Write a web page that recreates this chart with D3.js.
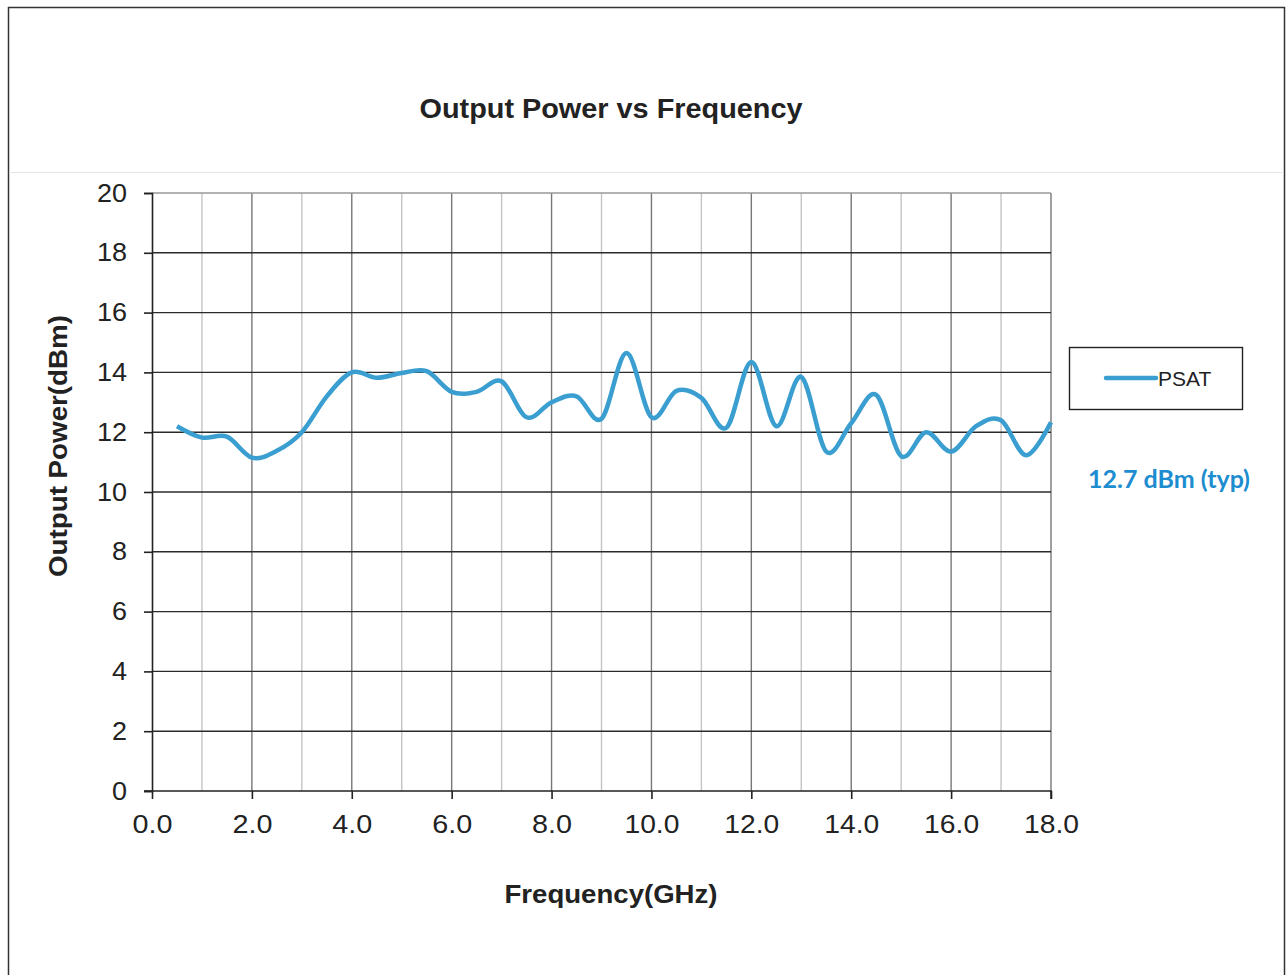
<!DOCTYPE html>
<html>
<head>
<meta charset="utf-8">
<script src="https://cdn.jsdelivr.net/npm/d3@7"></script>
<style>
  body { margin: 0; background: #fff; }
  svg { display: block; font-family: "Liberation Sans", Arial, sans-serif; }
</style>
</head>
<body>
<script>
// frequency (GHz) and PSAT (dBm)
var freq = [0.5, 1.0, 1.5, 2.0, 2.5, 3.0, 3.5, 4.0, 4.5, 5.0, 5.5, 6.0,
  6.5, 7.0, 7.5, 8.0, 8.5, 9.0, 9.5, 10.0, 10.5, 11.0, 11.5, 12.0,
  12.5, 13.0, 13.5, 14.0, 14.5, 15.0, 15.5, 16.0, 16.5, 17.0, 17.5, 18.0];
var psat = [12.2, 11.82, 11.85, 11.15, 11.38, 12.0, 13.2, 14.0, 13.82, 13.98, 14.04, 13.35,
  13.35, 13.7, 12.5, 13.0, 13.2, 12.45, 14.65, 12.5, 13.38, 13.15, 12.15, 14.35,
  12.2, 13.85, 11.35, 12.3, 13.25, 11.2, 12.0, 11.35, 12.2, 12.4, 11.23, 12.33];
var xTicks = [0, 2, 4, 6, 8, 10, 12, 14, 16, 18];
var yTicks = [0, 2, 4, 6, 8, 10, 12, 14, 16, 18, 20];
var seriesName = "PSAT";
var note = "12.7 dBm (typ)";

var W = 1288, H = 975;
var margin = { top: 193, left: 152 };
var width = 1051 - 152, height = 791 - 193;
var lineColor = "#3a9fd0";

var svg = d3.select("body").append("svg")
  .attr("width", W).attr("height", H);

// page frame
svg.append("rect").attr("x", 8.5).attr("y", 7.5).attr("width", 1276).attr("height", 980)
  .attr("fill", "none").attr("stroke", "#333").attr("stroke-width", 1.5);
svg.append("line").attr("x1", 9).attr("x2", 1284).attr("y1", 172.5).attr("y2", 172.5)
  .attr("stroke", "#e6e6e6");

var x = d3.scaleLinear().domain([0, 18]).range([0, width]);
var y = d3.scaleLinear().domain([0, 20]).range([height, 0]);

var g = svg.append("g")
  .attr("transform", "translate(" + margin.left + "," + margin.top + ")");

// vertical grid every 1 GHz
g.selectAll(".vgrid").data(d3.range(1, 19)).enter().append("line")
  .attr("x1", function (d) { return x(d); }).attr("x2", function (d) { return x(d); })
  .attr("y1", 0).attr("y2", height)
  .attr("stroke", function (d) { return d % 2 === 0 ? "#777" : "#c4c4c4"; })
  .attr("stroke-width", 1.4);

// horizontal grid
g.selectAll(".hgrid").data(yTicks.slice(1)).enter().append("line")
  .attr("x1", 0).attr("x2", width)
  .attr("y1", function (d) { return y(d); }).attr("y2", function (d) { return y(d); })
  .attr("stroke", function (d) { return d === 20 ? "#999" : "#2b2b2b"; })
  .attr("stroke-width", 1.4);

// axes
var xAxis = g.append("g")
  .attr("transform", "translate(0," + height + ")")
  .call(d3.axisBottom(x).tickValues(xTicks).tickFormat(d3.format(".1f")).tickSize(8).tickPadding(16));
var yAxis = g.append("g")
  .call(d3.axisLeft(y).tickValues(yTicks).tickSize(8).tickPadding(17));

[xAxis, yAxis].forEach(function (a) {
  a.select(".domain").attr("stroke", "#222").attr("stroke-width", 1.6);
  a.selectAll(".tick line").attr("stroke", "#222").attr("stroke-width", 1.6);
  a.selectAll(".tick text").attr("font-size", 25).attr("fill", "#222")
    .attr("font-family", "Liberation Sans, Arial, sans-serif")
    .attr("lengthAdjust", "spacingAndGlyphs")
    .attr("textLength", function () {
      var s = d3.select(this).text();
      return s.replace(".", "").length * 15 + (s.indexOf(".") >= 0 ? 10 : 0);
    });
});
xAxis.select(".domain").attr("d", "M-8,0H" + width + "V8");

// PSAT curve
var line = d3.line()
  .x(function (d, i) { return x(freq[i]); })
  .y(function (d) { return y(d); })
  .curve(d3.curveCardinal.tension(0));

g.append("path").datum(psat)
  .attr("d", line)
  .attr("fill", "none")
  .attr("stroke", lineColor)
  .attr("stroke-width", 4.5)
  .attr("stroke-linejoin", "round");

// title
svg.append("text").attr("x", 611).attr("y", 118)
  .attr("text-anchor", "middle").attr("font-size", 27).attr("font-weight", "bold")
  .attr("textLength", 383).attr("lengthAdjust", "spacingAndGlyphs")
  .attr("fill", "#222").text("Output Power vs Frequency");

// axis titles
svg.append("text").attr("x", 611).attr("y", 903)
  .attr("text-anchor", "middle").attr("font-size", 26).attr("font-weight", "bold")
  .attr("textLength", 213).attr("lengthAdjust", "spacingAndGlyphs")
  .attr("fill", "#222").text("Frequency(GHz)");
svg.append("text").attr("transform", "translate(67,446) rotate(-90)")
  .attr("text-anchor", "middle").attr("font-size", 26).attr("font-weight", "bold")
  .attr("textLength", 262).attr("lengthAdjust", "spacingAndGlyphs")
  .attr("fill", "#222").text("Output Power(dBm)");

// legend
var legend = svg.append("g").attr("transform", "translate(1069,347)");
legend.append("rect").attr("x", 0.5).attr("y", 0.5).attr("width", 173).attr("height", 62)
  .attr("fill", "#fff").attr("stroke", "#222").attr("stroke-width", 1.4);
legend.append("line").attr("x1", 37).attr("x2", 87).attr("y1", 31).attr("y2", 31)
  .attr("stroke", lineColor).attr("stroke-width", 4.5).attr("stroke-linecap", "round");
legend.append("text").attr("x", 89).attr("y", 39).attr("font-size", 21)
  .attr("fill", "#222").text(seriesName);

// typical value note
svg.append("text").attr("x", 1088).attr("y", 488)
  .attr("font-family", "Lato, 'Open Sans', sans-serif").attr("font-size", 24).attr("font-weight", "bold")
  .attr("textLength", 162).attr("lengthAdjust", "spacingAndGlyphs")
  .attr("fill", "#1d8dd0").text(note);
</script>
</body>
</html>
